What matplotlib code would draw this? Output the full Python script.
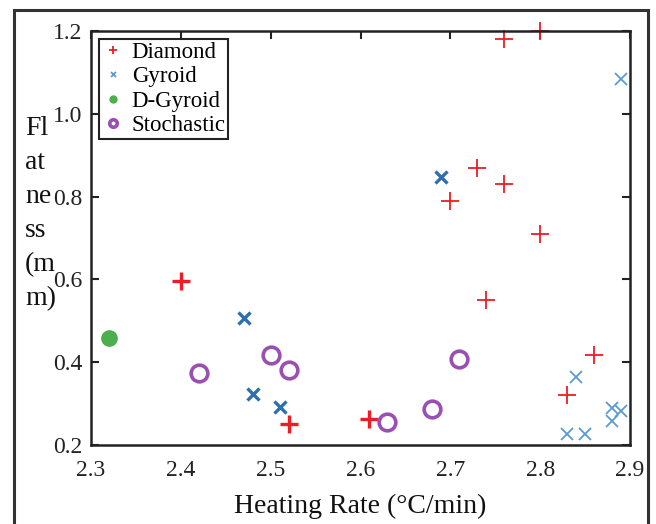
import matplotlib
matplotlib.use("Agg")
import matplotlib.pyplot as plt
from matplotlib.patches import Rectangle

plt.rcParams['font.family'] = ['Liberation Serif', 'DejaVu Serif']

# Diamond (red +); bold = heavier stroke in the original
dia_x = [2.76, 2.80, 2.73, 2.76, 2.70, 2.80, 2.74, 2.40, 2.86, 2.83, 2.52, 2.61]
dia_y = [1.18, 1.20, 0.87, 0.83, 0.79, 0.71, 0.55, 0.595, 0.417, 0.321, 0.251, 0.263]
dia_bold = [0, 0, 0, 0, 0, 0, 0, 1, 0, 0, 1, 1]

# Gyroid (blue x)
gyr_x = [2.89, 2.69, 2.47, 2.48, 2.51, 2.84, 2.83, 2.85, 2.88, 2.89, 2.88]
gyr_y = [1.084, 0.847, 0.507, 0.323, 0.292, 0.364, 0.227, 0.227, 0.289, 0.283, 0.258]
gyr_bold = [0, 1, 1, 1, 1, 0, 0, 0, 0, 0, 0]

# D-Gyroid (green dot)
dgy_x = [2.32]
dgy_y = [0.458]

# Stochastic (purple open circles)
sto_x = [2.42, 2.50, 2.52, 2.63, 2.68, 2.71]
sto_y = [0.374, 0.417, 0.381, 0.256, 0.287, 0.408]

xticks = [2.3, 2.4, 2.5, 2.6, 2.7, 2.8, 2.9]
yticks = [0.2, 0.4, 0.6, 0.8, 1.0, 1.2]

red = '#ee1c25'
blue_l = '#5b9bd5'
blue_d = '#2e6fb0'
green = '#4cae4c'
purple = '#9a4fb3'

fig = plt.figure(figsize=(6.56, 5.24), dpi=100)
ax = fig.add_axes([91/656, 79/524, 539/656, 414/524])

# outer frame
fig.patches.append(Rectangle((14/656, -0.05), 634/656, 1.05 - 10/524,
                             transform=fig.transFigure, fill=False,
                             edgecolor='#333333', linewidth=2.2, zorder=0))

def draw(xs, ys, flags, marker, color, color_bold, size, label):
    first = True
    for x, y, b in zip(xs, ys, flags):
        ax.plot(x, y, linestyle='none', marker=marker, markersize=size,
                markeredgewidth=2.4 if b else 1.3,
                color=color_bold if b else color, clip_on=False,
                label=label if first else None)
        first = False

draw(dia_x, dia_y, dia_bold, '+', red, red, 13, 'Diamond')
draw(gyr_x, gyr_y, gyr_bold, 'x', blue_l, blue_d, 8, 'Gyroid')
ax.plot(dgy_x, dgy_y, linestyle='none', marker='o', markersize=11,
        color=green, label='D-Gyroid', clip_on=False)
ax.plot(sto_x, sto_y, linestyle='none', marker='o', markersize=12,
        markerfacecolor='none', markeredgecolor=purple, markeredgewidth=2.6,
        label='Stochastic', clip_on=False)

ax.set_xlim(2.3, 2.9)
ax.set_ylim(0.2, 1.2)
ax.set_xticks(xticks)
ax.set_yticks(yticks)
ax.set_xticklabels(['%.1f' % t for t in xticks])
ax.set_yticklabels(['%.1f' % t for t in yticks])
ax.tick_params(axis='x', bottom=False, top=True, direction='in', length=6,
               width=1.5, labelsize=17, pad=11, colors='#222222')
ax.tick_params(axis='y', left=True, right=True, direction='in', length=6,
               width=1.5, labelsize=17, pad=6, colors='#222222')
for s in ax.spines.values():
    s.set_linewidth(1.8)
    s.set_color('#222222')

ax.set_xlabel('Heating Rate (°C/min)', fontsize=20, labelpad=9, color='#111111')
fig.text(25/656, 1 - 116/524, 'Fl\nat\nne\nss\n(m\nm)', fontsize=20,
         va='top', ha='left', linespacing=1.47, color='#111111')

leg = ax.legend(loc='upper left', bbox_to_anchor=(0.015, 0.981), fontsize=16.5,
                markerscale=0.45, frameon=True, fancybox=False,
                edgecolor='#222222', framealpha=1, borderpad=0.12,
                labelspacing=0.15, handletextpad=0.3, handlelength=1.0,
                borderaxespad=0)
leg.get_frame().set_linewidth(1.5)

fig.savefig('out.png', dpi=100)
